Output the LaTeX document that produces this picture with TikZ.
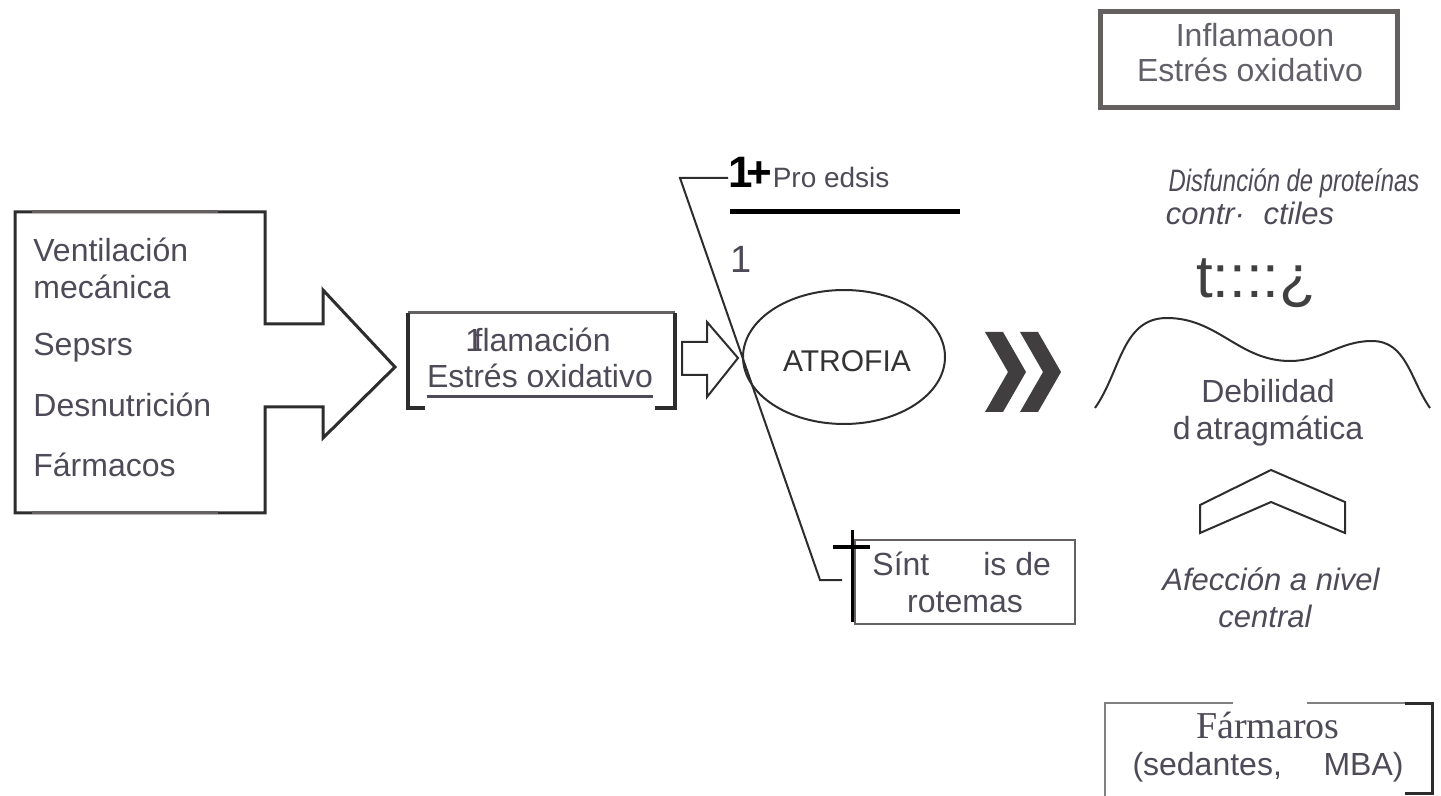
\documentclass[tikz,border=0pt]{standalone}
\usepackage{fontspec}
\setmainfont{Liberation Sans}
\newfontfamily\timesf{Liberation Serif}
\usepackage{xcolor}
\usepackage{graphicx}
\definecolor{tgrey}{RGB}{78,74,88}
\definecolor{lgrey}{RGB}{98,95,104}
\definecolor{bgrey}{RGB}{100,96,96}
\definecolor{dgrey}{RGB}{45,45,45}
\definecolor{cgrey}{RGB}{64,62,62}
\usetikzlibrary{shapes.geometric}
\tikzset{
lbl/.style={font=\fontsize{16}{19}\selectfont,text=tgrey,inner sep=0pt,anchor=base west},
clbl/.style={lbl,anchor=base},
ilbl/.style={clbl,font=\fontsize{15.5}{19}\selectfont\itshape},
blk/.style={draw=dgrey,line width=1.5pt,line join=miter}
}

\begin{document}
\begin{tikzpicture}[x=0.5pt,y=0.5pt]
\useasboundingbox (0,0) rectangle (1441,-796);
\draw[blk] (15,-212) -- (265,-212) -- (265,-324) -- (323,-324) -- (323,-290) -- (395,-367) -- (323,-438) -- (323,-407) -- (265,-407) -- (265,-513) -- (15,-513) -- cycle;
\draw[bgrey,line width=1.5pt] (32,-212) -- (218,-212) (32,-513) -- (218,-513);
\node[lbl] (vent) at (33,-262) {Ventilación};
\node[lbl] (mec) at (33,-299) {mecánica};
\node[lbl] (seps) at (33,-356) {Sepsrs};
\node[lbl] (desn) at (33,-417) {Desnutrición};
\node[lbl] (farm) at (33,-477) {Fármacos};
\draw[bgrey,line width=1.5pt] (408,-313) -- (675,-313);
\draw[dgrey,line width=2pt] (425,-408) -- (408,-408) -- (408,-313);
\draw[dgrey,line width=2pt] (655,-408) -- (675,-408) -- (675,-313);
\node[clbl] (infl) at (538,-352) {1\kern-.3em flamación};
\node[clbl] (estr) at (540,-388) {Estrés oxidativo};
\draw[tgrey,line width=1.5pt] ([yshift=-4.5pt]estr.base west) -- ([yshift=-4.5pt]estr.base east);
\draw[dgrey,line width=1pt] (682,-342) -- (707,-342) -- (707,-322) -- (738,-358) -- (707,-397) -- (707,-375) -- (682,-375) -- cycle;
\node[draw=dgrey,line width=1pt,ellipse,minimum width=101pt,minimum height=67pt,inner sep=0pt] (elip) at (844,-357) {};
\node[clbl,font=\fontsize{15}{17}\selectfont,text=black!80] (atro) at (847,-372) {ATROFIA};
% proteolisis y sintesis
\node[lbl,font=\fontsize{22}{24}\selectfont\bfseries,text=black] (uno) at (728,-188) {1\kern-.15em+};
\node[lbl,font=\fontsize{14}{16}\selectfont] (prot) at (uno.base east) {Pro edsis};
\draw[black,line width=2.5pt] (730,-212) -- (960,-212);
\node[lbl,font=\fontsize{19}{21}\selectfont] (one) at (730,-273) {1};
\coordinate (k1) at (680,-178);
\coordinate (k2) at (820,-580);
\draw[dgrey,line width=1pt] (uno.west |- k1) -- (k1) -- (k2) -- ++(22,0);
\draw[bgrey,line width=1.25pt] (855,-540) rectangle (1075,-624);
\draw[black,line width=1.5pt] (852,-530) -- (852,-622);
\draw[black,line width=2pt] (833,-547) -- (870,-547);
\node[lbl] (sint) at (872,-575) {Sínt\hspace{27pt}is de};
\node[clbl] (rot) at (965,-612) {rotemas};
\foreach \dx in {0,35}
  \fill[cgrey] (985+\dx,-332) -- (1003+\dx,-332) -- (1026+\dx,-372) -- (1003+\dx,-412) -- (985+\dx,-412) -- (1008+\dx,-372) -- cycle;
% columna derecha
\draw[bgrey,line width=2.5pt] (1100,-12) rectangle (1397,-108);
\node[clbl,text=lgrey] (infl2) at (1255,-47) {Inflamaoon};
\node[clbl,text=lgrey] (estr2) at (1250,-82) {Estrés oxidativo};
\node[ilbl] (disf) at (1294,-192) {\scalebox{0.77}[1]{Disfunción de proteínas}};
\node[ilbl] (contr) at (1250,-225) {contr·\hspace{.6em}ctiles};
\node[clbl,font=\fontsize{30}{32}\selectfont,text=black!75] (tsym) at (1256,-298) {t::::¿};
\draw[dgrey,line width=1pt] (1095,-408) to[out=55,in=180] (1167,-318) to[out=0,in=180] (1290,-361) to[out=0,in=180] (1372,-341) to[out=0,in=125] (1430,-408);
\node[clbl] (debil) at (1268,-403) {Debilidad};
\node[clbl] (diaf) at (1268,-440) {d\,atragmática};
\draw[dgrey,line width=1pt,line join=miter] (1200,-505) -- (1271,-470) -- (1345,-502) -- (1345,-533) -- (1271,-502) -- (1200,-533) -- cycle;
\node[ilbl] (afec) at (1271,-590) {Afección a nivel};
\node[ilbl] (centr) at (1265,-627) {central};
\draw[bgrey!80,line width=1pt] (1105,-796) -- (1105,-703) -- (1233,-703) (1307,-703) -- (1410,-703);
\draw[dgrey,line width=1.5pt] (1405,-703) -- (1432,-703) -- (1432,-793) -- (1405,-793);
\node[clbl,font=\timesf\fontsize{19}{22}\selectfont] (farmr) at (1268,-738) {Fármaros};
\node[clbl] (sed) at (1268,-775) {(sedantes,\hspace{1.3em}MBA)};
\end{tikzpicture}
\end{document}
